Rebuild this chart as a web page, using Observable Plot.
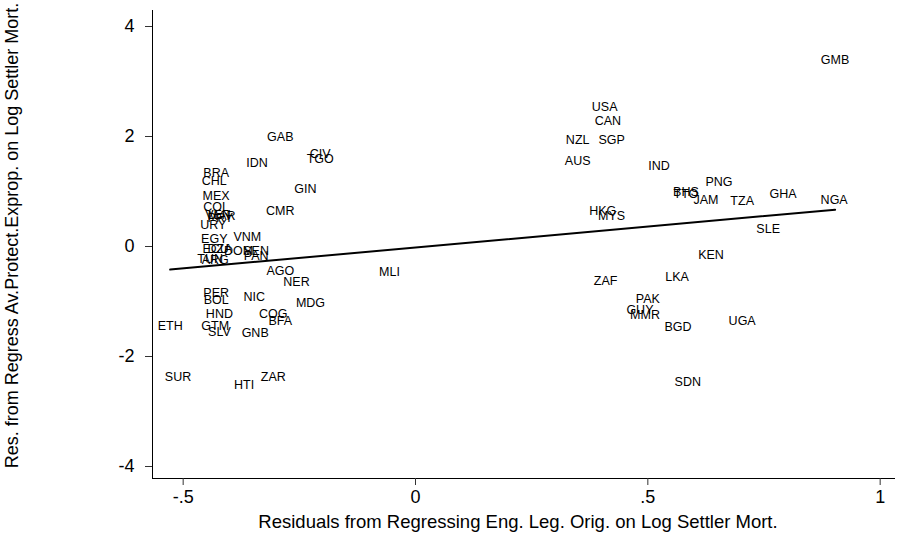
<!DOCTYPE html>
<html>
<head>
<meta charset="utf-8">
<script src="https://cdn.jsdelivr.net/npm/d3@7"></script>
<script src="https://cdn.jsdelivr.net/npm/@observablehq/plot@0.6"></script>
<style>
  html, body { margin: 0; padding: 0; background: #fff; }
  svg { display: block; }
</style>
</head>
<body>
<div id="chart"></div>
<script>
// Country codes and residual coordinates
const countries = [
  "GMB","USA","CAN","NZL","SGP","AUS","IND","PNG","BHS","TTO","JAM","TZA","GHA","NGA",
  "HKG","MYS","SLE","KEN","ZAF","LKA","PAK","GUY","MMR","BGD","UGA","SDN",
  "GAB","CIV","TGO","IDN","BRA","CHL","GIN","MEX","COL","CMR","VEN","PRY","MAR","URY",
  "EGY","VNM","ECU","DZA","DOM","SEN","PAN","TUN","ARG","AGO","NER","MLI",
  "PER","BOL","NIC","MDG","HND","COG","BFA","ETH","GTM","SLV","GNB","SUR","HTI","ZAR"
];
const xResid = [
  0.903,0.407,0.414,0.349,0.422,0.349,0.524,0.653,0.582,0.582,0.625,0.703,0.791,0.901,
  0.403,0.422,0.759,0.636,0.409,0.563,0.500,0.483,0.494,0.565,0.703,0.586,
  -0.291,-0.205,-0.205,-0.341,-0.429,-0.433,-0.237,-0.429,-0.429,-0.291,-0.425,-0.420,-0.417,-0.435,
  -0.433,-0.362,-0.430,-0.421,-0.381,-0.343,-0.343,-0.442,-0.431,-0.291,-0.256,-0.056,
  -0.429,-0.429,-0.347,-0.226,-0.422,-0.306,-0.291,-0.528,-0.431,-0.422,-0.345,-0.511,-0.369,-0.306
];
const yResid = [
  3.40,2.53,2.29,1.93,1.93,1.55,1.47,1.18,1.00,0.95,0.84,0.82,0.96,0.85,
  0.64,0.56,0.31,-0.15,-0.62,-0.56,-0.95,-1.16,-1.24,-1.47,-1.36,-2.47,
  2.00,1.69,1.60,1.51,1.33,1.20,1.05,0.91,0.71,0.64,0.58,0.52,0.55,0.40,
  0.145,0.18,-0.05,-0.05,-0.09,-0.09,-0.18,-0.23,-0.24,-0.45,-0.64,-0.47,
  -0.85,-0.98,-0.91,-1.02,-1.22,-1.22,-1.36,-1.45,-1.45,-1.55,-1.58,-2.38,-2.51,-2.38
];
// Fitted regression line end points
const fitX = [-0.528, 0.903];
const fitY = [-0.42, 0.67];

const xTicks = [-0.5, 0, 0.5, 1];
const yTicks = [-4, -2, 0, 2, 4];
const xDomain = [-0.566, 1.033];
const yDomain = [-4.218, 4.291];
const xTitle = "Residuals from Regressing Eng. Leg. Orig. on Log Settler Mort.";
const yTitle = "Res. from Regress Av.Protect.Exprop. on Log Settler Mort.";

const points = countries.map((c, i) => ({code: c, x: xResid[i], y: yResid[i]}));
const fit = fitX.map((x, i) => ({x, y: fitY[i]}));

const fmtX = d => d === 0 ? "0" : String(d).replace("0.", ".");
const font = "Liberation Sans, Arial, Helvetica, sans-serif";

const chart = Plot.plot({
  width: 903,
  height: 538,
  marginLeft: 152,
  marginRight: 8,
  marginTop: 10,
  marginBottom: 60,
  style: {fontFamily: font, background: "white", color: "black", overflow: "visible"},
  x: {domain: xDomain},
  y: {domain: yDomain},
  marks: [
    Plot.ruleX([xDomain[0]], {stroke: "black", strokeWidth: 1}),
    Plot.ruleY([yDomain[0]], {stroke: "black", strokeWidth: 1}),
    Plot.axisX({ticks: xTicks, tickFormat: fmtX, tickSize: 7, tickPadding: 5, fontSize: 18, label: null, stroke: "#333"}),
    Plot.axisY({ticks: yTicks, tickFormat: d => String(d), tickSize: 7, tickPadding: 11, fontSize: 18, label: null, stroke: "#333"}),
    Plot.text([xTitle], {frameAnchor: "bottom", lineAnchor: "middle", dy: 44, dx: -6, fontSize: 18.5, fill: "black"}),
    Plot.text([yTitle], {frameAnchor: "left", textAnchor: "middle", lineAnchor: "middle", rotate: -90, dx: -140, dy: -9, fontSize: 18, fill: "black"}),
    Plot.line(fit, {x: "x", y: "y", stroke: "black", strokeWidth: 2}),
    Plot.text(points, {x: "x", y: "y", text: "code", fontSize: 12.5, fill: "black"})
  ]
});
document.getElementById("chart").appendChild(chart);
</script>
</body>
</html>
